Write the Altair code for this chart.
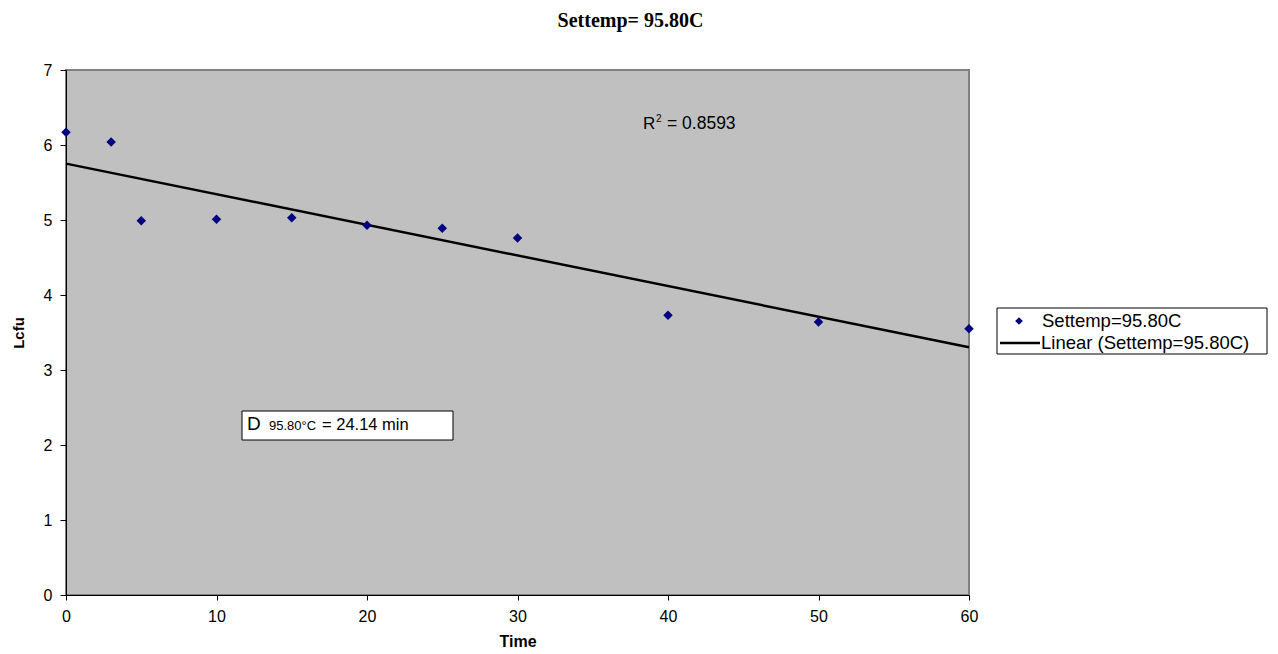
import altair as alt
import pandas as pd

time_vals = [0, 3, 5, 10, 15, 20, 25, 30, 40, 50, 60]
lcfu_vals = [6.17, 6.04, 4.99, 5.01, 5.03, 4.93, 4.89, 4.76, 3.73, 3.64, 3.55]
series_name = "Settemp=95.80C"
trend_name = "Linear (Settemp=95.80C)"
x_ticks = [0, 10, 20, 30, 40, 50, 60]
y_ticks = [0, 1, 2, 3, 4, 5, 6, 7]

df = pd.DataFrame({"Time": time_vals, "Lcfu": lcfu_vals})

W, H = 903, 525
FONT = "Liberation Sans"

xs = alt.Scale(domain=[0, 60], nice=False, zero=False)
ys = alt.Scale(domain=[0, 7], nice=False)

base = alt.Chart(df)

xenc = alt.X("Time:Q", scale=xs, axis=alt.Axis(
    values=x_ticks, format="d", title="Time", grid=False, domainColor="black", tickColor="black",
    tickSize=5, labelFontSize=16, labelFont=FONT, labelColor="black", labelPadding=8, labelFlush=False,
    titleFont=FONT, titleFontSize=16, titleFontWeight="bold", titleColor="black", titlePadding=9))
yenc = alt.Y("Lcfu:Q", scale=ys, axis=alt.Axis(
    values=y_ticks, format="d", title="Lcfu", grid=False, domainColor="black", tickColor="black",
    tickSize=6, labelFontSize=16, labelFont=FONT, labelColor="black", labelPadding=8, labelFlush=False,
    titleFont=FONT, titleFontSize=15, titleFontWeight="bold", titleColor="black", titlePadding=17))

pts = base.mark_point(shape="diamond", filled=True, size=90, color="#000080", opacity=1).encode(x=xenc, y=yenc)

trend = base.transform_regression("Time", "Lcfu", method="linear", extent=[0, 60]).mark_line(
    color="black", strokeWidth=2.5).encode(x=alt.X("Time:Q", scale=xs), y=alt.Y("Lcfu:Q", scale=ys))

# annotations
ann = pd.DataFrame({"a": [0]})
abase = alt.Chart(ann)
r2_r = abase.mark_text(text="R", font=FONT, fontSize=17, align="left", baseline="alphabetic", color="black").encode(
    x=alt.value(577), y=alt.value(59))
r2_sup = abase.mark_text(text="2", font=FONT, fontSize=10, align="left", baseline="alphabetic", color="black").encode(
    x=alt.value(590), y=alt.value(52))
r2_val = abase.mark_text(text="= 0.8593", font=FONT, fontSize=17.5, align="left", baseline="alphabetic", color="black").encode(
    x=alt.value(601), y=alt.value(59))

dbox = abase.mark_rect(fill="white", stroke="black", strokeWidth=1).encode(
    x=alt.value(176), x2=alt.value(387), y=alt.value(341), y2=alt.value(370))
d1 = abase.mark_text(text="D", font=FONT, fontSize=19, align="left", baseline="alphabetic", color="black").encode(
    x=alt.value(181), y=alt.value(360))
d2 = abase.mark_text(text="95.80°C", font=FONT, fontSize=13, align="left", baseline="alphabetic", color="black").encode(
    x=alt.value(203), y=alt.value(360))
d3 = abase.mark_text(text="= 24.14 min", font=FONT, fontSize=16.5, align="left", baseline="alphabetic", color="black").encode(
    x=alt.value(256), y=alt.value(360))

# legend (manual)
lg_box = abase.mark_rect(fill="white", stroke="black", strokeWidth=1).encode(
    x=alt.value(931), x2=alt.value(1201), y=alt.value(238), y2=alt.value(284))
lg_pt = abase.mark_point(shape="diamond", filled=True, size=60, color="#000080", opacity=1).encode(
    x=alt.value(953), y=alt.value(251))
lg_line = abase.mark_rule(color="black", strokeWidth=2.5).encode(
    x=alt.value(934), x2=alt.value(974), y=alt.value(273))
lg_t1 = abase.mark_text(text=series_name, font=FONT, fontSize=18.5, align="left", baseline="middle", color="black").encode(
    x=alt.value(976), y=alt.value(251))
lg_t2 = abase.mark_text(text=trend_name, font=FONT, fontSize=18.5, align="left", baseline="middle", color="black").encode(
    x=alt.value(975), y=alt.value(273))

chart = alt.layer(trend, pts, r2_r, r2_sup, r2_val, dbox, d1, d2, d3,
                  lg_box, lg_pt, lg_line, lg_t1, lg_t2).properties(
    width=W, height=H,
    title=alt.TitleParams("Settemp= 95.80C", font="Liberation Serif", fontSize=20, fontWeight="bold",
                          color="black", anchor="middle", dx=113, offset=31),
    autosize=alt.AutoSizeParams(type="none"),
    padding={"left": 58, "top": 62, "right": 300, "bottom": 58},
    background="white",
).configure_view(fill="#C0C0C0", stroke="#808080", strokeWidth=2)

chart.save("out.html", embed_options={"renderer": "svg", "actions": False})
